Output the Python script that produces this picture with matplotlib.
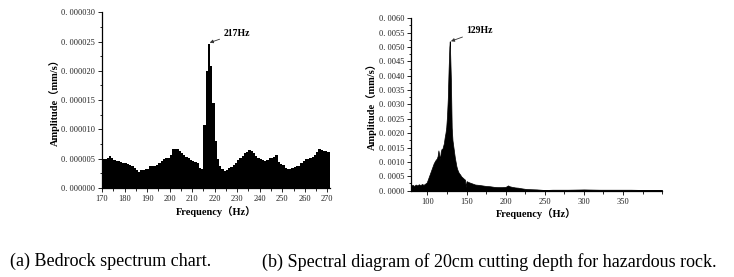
import matplotlib.pyplot as plt
from matplotlib.ticker import MultipleLocator, AutoMinorLocator, FuncFormatter

# (a) bedrock spectrum, 1 Hz bins starting at 170 Hz, amplitude in 1e-6 mm/s
bedrock_start = 170
bedrock_amp = [
    5.0, 5.0, 5.2, 5.4, 5.1, 4.8, 4.7, 4.6, 4.5, 4.3,   # 170-179
    4.2, 4.1, 4.0, 3.7, 3.4, 3.0, 2.8, 3.0, 3.1, 3.2,   # 180-189
    3.2, 3.7, 3.7, 3.8, 4.0, 4.3, 4.6, 4.9, 5.1, 5.2,   # 190-199
    5.7, 6.6, 6.6, 6.6, 6.3, 6.0, 5.6, 5.3, 5.1, 4.8,   # 200-209
    4.7, 4.5, 4.2, 3.5, 3.3, 10.8, 20.0, 24.6, 20.8, 14.5,  # 210-219
    8.0, 5.0, 3.8, 3.2, 2.9, 3.1, 3.4, 3.6, 3.9, 4.3,   # 220-229
    4.8, 5.2, 5.5, 5.9, 6.2, 6.5, 6.4, 5.9, 5.4, 5.1,   # 230-239
    5.0, 4.8, 4.6, 4.8, 5.1, 5.2, 5.3, 5.7, 4.5, 4.1,   # 240-249
    4.0, 3.5, 3.3, 3.3, 3.5, 3.6, 3.7, 3.8, 4.3, 4.7,   # 250-259
    5.0, 5.0, 5.2, 5.3, 5.7, 6.2, 6.6, 6.5, 6.4, 6.3,   # 260-269
    6.2,                                                # 270
]
bedrock_peak = 217

# (b) hazardous rock, 20cm cutting depth
rock_freq = [79, 81, 83, 85, 87, 89, 91, 93, 95, 97, 99, 100, 102, 104, 106,
             108, 110, 112, 113, 114, 115, 116, 117, 118, 119, 120, 121, 122,
             123, 124, 125, 126, 127, 128, 128.5, 129, 130, 131, 132, 133, 134,
             135, 136, 137, 138, 139, 140, 142, 143, 145, 147, 148, 149, 150,
             152, 155, 158, 161, 165, 170, 175, 180, 185, 190, 195, 200, 203,
             205, 208, 212, 216, 220, 225, 230, 240, 250, 260, 280, 300, 320,
             340, 360, 380, 400]
rock_amp = [0.00017, 0.00020, 0.00016, 0.00021, 0.00018, 0.00022, 0.00019,
            0.00023, 0.00020, 0.00024, 0.00028, 0.00035, 0.00050, 0.00065,
            0.00080, 0.00095, 0.00105, 0.00112, 0.00120, 0.00140, 0.00125,
            0.00110, 0.00135, 0.00145, 0.00145, 0.00155, 0.00165, 0.00185,
            0.00200, 0.00220, 0.00260, 0.00320, 0.00420, 0.00500, 0.00520,
            0.00480, 0.00380, 0.00220, 0.00175, 0.00155, 0.00135, 0.00115,
            0.00100, 0.00085, 0.00075, 0.00068, 0.00062, 0.00055, 0.00050,
            0.00045, 0.00040, 0.00038, 0.00012, 0.00033, 0.00030, 0.00027,
            0.00024, 0.00021, 0.00020, 0.00018, 0.00016, 0.00015, 0.00013,
            0.00012, 0.00012, 0.00013, 0.00018, 0.00015, 0.00013, 0.00011,
            0.00010, 0.00008, 0.00006, 0.00005, 0.00004, 0.00002, 0.00003,
            0.00003, 0.00004, 0.00003, 0.00003, 0.00003, 0.00002, 0.00002]
rock_peak = 129

captions = ["(a) Bedrock spectrum chart.",
            "(b) Spectral diagram of 20cm cutting depth for hazardous rock."]

serif = ["Liberation Serif", "Noto Sans CJK SC"]
plt.rcParams["font.family"] = serif

fig = plt.figure(figsize=(7.34, 2.77), dpi=100)
ax1 = fig.add_axes([0.139, 0.321, 0.310, 0.635])
ax2 = fig.add_axes([0.560, 0.312, 0.342, 0.622])


def style_axis(ax, ypad):
    ax.spines["top"].set_visible(False)
    ax.spines["right"].set_visible(False)
    for s in ("left", "bottom"):
        ax.spines[s].set_linewidth(0.9)
    ax.tick_params(which="major", direction="out", length=3, width=0.7,
                   labelsize=6.0, pad=2, colors="#222222")
    ax.tick_params(which="minor", direction="out", length=1.8, width=0.6)
    ax.xaxis.set_minor_locator(AutoMinorLocator(2))
    ax.yaxis.set_minor_locator(AutoMinorLocator(2))
    ax.set_xlabel("Frequency（Hz）", fontsize=7.5, fontweight="bold", labelpad=2)
    ax.set_ylabel("Amplitude（mm/s）", fontsize=7.5, fontweight="bold", labelpad=ypad)


# left chart
freqs = [bedrock_start + i for i in range(len(bedrock_amp))]
amps = [a * 1e-6 for a in bedrock_amp]
ax1.bar(freqs, amps, width=1.0, align="edge", color="black", linewidth=0)
ax1.set_xlim(170, 271)
ax1.set_ylim(0, 0.000030)
ax1.xaxis.set_major_locator(MultipleLocator(10))
ax1.yaxis.set_major_locator(MultipleLocator(0.000005))
ax1.yaxis.set_major_formatter(FuncFormatter(lambda v, p: f"{v:.6f}".replace(".", ". ")))
style_axis(ax1, 1)
peak_amp = amps[bedrock_peak - bedrock_start]
ax1.annotate(f"{bedrock_peak}Hz", xy=(bedrock_peak + 0.8, peak_amp + 0.2e-6),
             xytext=(224, 26.0e-6), fontsize=7, fontweight="bold",
             arrowprops=dict(arrowstyle="-|>", color="#333333", lw=0.6,
                             mutation_scale=5, shrinkA=1, shrinkB=0))

# right chart
ax2.fill_between(rock_freq, rock_amp, 0, color="black", linewidth=0.5, edgecolor="black")
ax2.set_xlim(79, 400)
ax2.set_ylim(0, 0.0060)
ax2.xaxis.set_major_locator(MultipleLocator(50))
ax2.yaxis.set_major_locator(MultipleLocator(0.0005))
ax2.yaxis.set_major_formatter(FuncFormatter(lambda v, p: f"{v:.4f}".replace(".", ". ")))
style_axis(ax2, 1)
ax2.set_xticks([100, 150, 200, 250, 300, 350])
ax2.annotate(f"{rock_peak}Hz", xy=(rock_peak + 1, max(rock_amp)),
             xytext=(150, 0.00548), fontsize=7, fontweight="bold",
             arrowprops=dict(arrowstyle="-|>", color="#333333", lw=0.6,
                             mutation_scale=5, shrinkA=1, shrinkB=0))

fig.text(0.013, 0.055, captions[0], fontsize=13, family=serif, va="center")
fig.text(0.357, 0.055, captions[1], fontsize=13, family=serif, va="center")

fig.savefig("out.png", dpi=100)
